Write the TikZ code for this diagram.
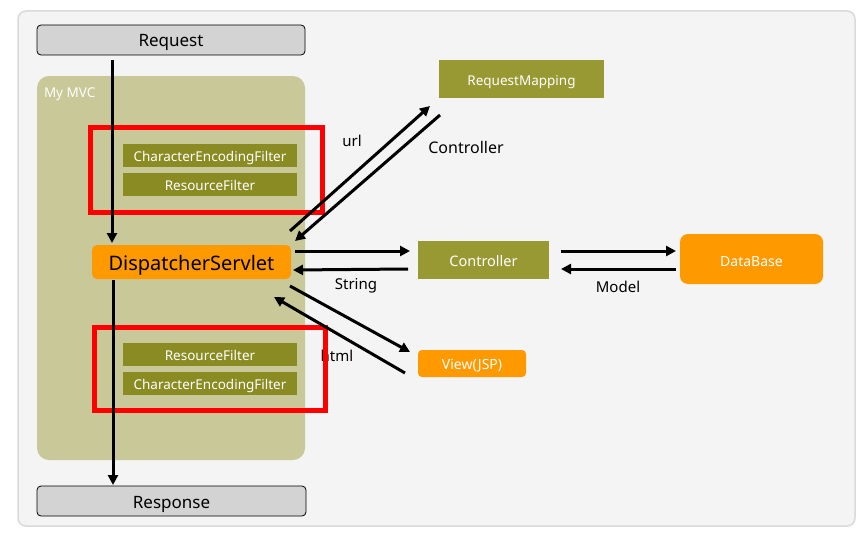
\documentclass[tikz,border=0pt]{standalone}
\usepackage{fontspec}
\setmainfont{Noto Sans}
\usetikzlibrary{arrows.meta}

\definecolor{panelgray}{RGB}{244,244,244}
\definecolor{panelline}{RGB}{218,218,218}
\definecolor{endgray}{RGB}{211,211,211}
\definecolor{mvckhaki}{RGB}{200,200,152}
\definecolor{olivedark}{RGB}{139,139,35}
\definecolor{olivelight}{RGB}{153,153,51}
\definecolor{springorange}{RGB}{255,153,0}
\definecolor{markred}{RGB}{255,0,0}

\begin{document}
\begin{tikzpicture}
  [x=1pt, y=-1pt,
    every node/.style={inner sep=0pt, outer sep=0pt, text depth=0pt},
    endbox/.style={draw=black, line width=0.8pt, fill=endgray, rounded corners=4pt,
      minimum width=268pt, minimum height=30pt, text height=14pt,
      font=\fontsize{17}{20}\selectfont},
    filterbox/.style={fill=olivedark, text=white, minimum width=174pt,
      minimum height=23pt, text height=12pt, font=\fontsize{13.5}{16}\selectfont},
    olivebox/.style={fill=olivelight, text=white, minimum height=38pt},
    orangebox/.style={fill=springorange, rounded corners=5pt},
    redframe/.style={draw=markred, line width=5pt},
    label/.style={text height=10.7pt, font=\fontsize{15}{18}\selectfont},
    flow/.style={line width=3pt, -{Triangle[length=10pt,width=10pt]}}]

  \useasboundingbox (0,0) rectangle (866,535);

  % background panel
  \node (panel) at (436.5,268.5) [draw=panelline, fill=panelgray, line width=1.5pt,
    rounded corners=8pt, minimum width=837pt, minimum height=515pt] {};

  % my mvc
  \node (mvc) at (171,268) [fill=mvckhaki, rounded corners=12pt,
    minimum width=268pt, minimum height=384pt] {};
  \node (mvclabel) at (44,92.5) [anchor=west, text=white, text height=9.6pt,
    font=\fontsize{13.5}{16}\selectfont] {My MVC};

  \node (request) at (171,40) [endbox] {Request};
  \node (response) at (171.5,501) [endbox, minimum width=269pt] {Response};

  \node (ds) at (191.5,262) [orangebox, minimum width=199pt, minimum height=34pt,
    text height=16.3pt, font=\fontsize{20}{24}\selectfont] {DispatcherServlet};

  % filters in
  \node (cefin) at (210,155.5) [filterbox] {CharacterEncodingFilter};
  \node (rfin) at (210,184.5) [filterbox] {ResourceFilter};
  % filters out
  \node (rfout) at (210,354.5) [filterbox] {ResourceFilter};
  \node (cefout) at (210,383.5) [filterbox] {CharacterEncodingFilter};

  \node (html) at (337,356.5) [label] {html};

  \node (infilters) at (206,169.5) [redframe, minimum width=232pt, minimum height=85pt] {};
  \node (outfilters) at (209.5,368.5) [redframe, minimum width=231pt, minimum height=83pt] {};

  \node (mapping) at (521.5,79) [olivebox, minimum width=165pt, text height=12.6pt,
    font=\fontsize{13.5}{16}\selectfont] {RequestMapping};
  \node (controller) at (483.5,260) [olivebox, minimum width=131pt, text height=13pt,
    font=\fontsize{14.5}{17}\selectfont] {Controller};
  \node (database) at (751.5,259) [orangebox, rounded corners=8pt, text=white,
    minimum width=143pt, minimum height=50pt, text height=14.5pt,
    font=\fontsize{14}{17}\selectfont] {DataBase};
  \node (view) at (472,363.5) [orangebox, rounded corners=4pt, text=white,
    minimum width=108pt, minimum height=27pt, text height=11pt,
    font=\fontsize{14}{17}\selectfont] {View(JSP)};

  \node (url) at (352,141) [label] {url};
  \node (ctrlname) at (466,147.3) [label, text height=11.4pt,
    font=\fontsize{16}{19}\selectfont] {Controller};
  \node (string) at (356,283.7) [label] {String};
  \node (model) at (618,287) [label] {Model};

  % flow
  \draw[flow] ([shift={(-59,5)}]request.south) -- ([shift={(-79.5,-2)}]ds.north);
  \draw[flow] ([shift={(-78.5,1)}]ds.south) -- ([shift={(-58.5,-1)}]response.north);

  \draw[flow] ([shift={(-1,-14)}]ds.north east) -- ([shift={(-9,8)}]mapping.south west);
  \draw[flow] ([shift={(1,17)}]mapping.south west) -- ([shift={(4,-4)}]ds.north east);

  \draw[flow] ([shift={(4,6)}]ds.north east) -- ([shift={(-8,10)}]controller.north west);
  \draw[flow] ([shift={(-10,-10)}]controller.south west) -- ([shift={(2,-9)}]ds.south east);

  \draw[flow] ([shift={(12,10)}]controller.north east) -- ([shift={(-4,17)}]database.north west);
  \draw[flow] ([shift={(-4,-15)}]database.south west) -- ([shift={(12,-10)}]controller.south east);

  \draw[flow] ([shift={(-1,7)}]ds.south east) -- ([shift={(-8,2)}]view.north west);
  \draw[flow] ([shift={(-13,-4)}]view.south west) -- ([shift={(-17,18)}]ds.south east);

\end{tikzpicture}
\end{document}
